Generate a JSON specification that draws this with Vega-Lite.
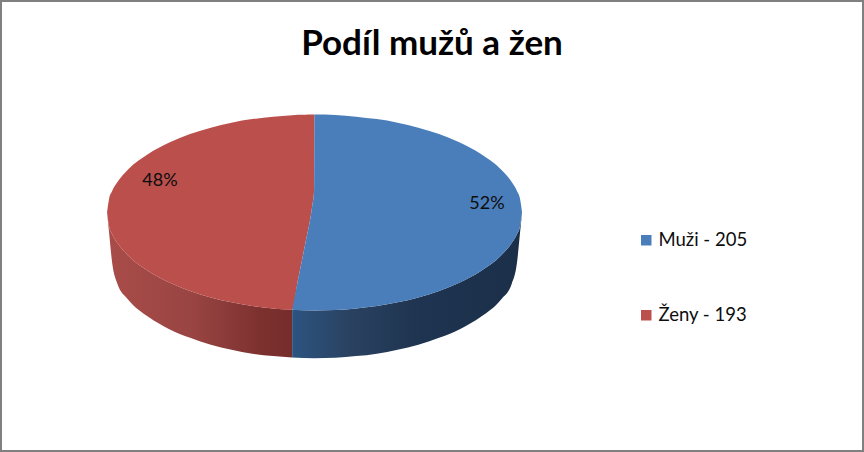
{
  "$schema": "https://vega.github.io/schema/vega-lite/v6.json",
  "width": 864,
  "height": 452,
  "autosize": {"type": "fit", "contains": "padding"},
  "padding": 0,
  "background": "white",
  "view": {"stroke": "#808080", "strokeWidth": 4, "fill": "white"},
  "title": {"text": "Podíl mužů a žen", "font": "Lato", "fontSize": 35, "fontWeight": "bold", "color": "#000000", "anchor": "middle", "frame": "group", "offset": -62},
  "datasets": {
    "podily": [
      {"kategorie": "Muži - 205", "pocet": 205, "podil": "52%", "x": 83.1, "y": 4.2},
      {"kategorie": "Ženy - 193", "pocet": 193, "podil": "48%", "x": -74.5, "y": 15.2}
    ],
    "obrys": [
      {"cast": "plast", "kategorie": "Ženy - 193", "x": -100, "y": 0, "y2": 0},
      {"cast": "plast", "kategorie": "Ženy - 193", "x": -99, "y": -6.7, "y2": -10},
      {"cast": "plast", "kategorie": "Ženy - 193", "x": -97.6, "y": -10.3, "y2": -23.9},
      {"cast": "plast", "kategorie": "Ženy - 193", "x": -95, "y": -14.7, "y2": -34.5},
      {"cast": "plast", "kategorie": "Ženy - 193", "x": -90, "y": -20.6, "y2": -41.8},
      {"cast": "plast", "kategorie": "Ženy - 193", "x": -80, "y": -28.3, "y2": -50.4},
      {"cast": "plast", "kategorie": "Ženy - 193", "x": -70, "y": -33.7, "y2": -56.2},
      {"cast": "plast", "kategorie": "Ženy - 193", "x": -60, "y": -37.8, "y2": -60.4},
      {"cast": "plast", "kategorie": "Ženy - 193", "x": -50, "y": -40.9, "y2": -63.7},
      {"cast": "plast", "kategorie": "Ženy - 193", "x": -40, "y": -43.3, "y2": -66.1},
      {"cast": "plast", "kategorie": "Ženy - 193", "x": -30, "y": -45, "y2": -68},
      {"cast": "plast", "kategorie": "Ženy - 193", "x": -20, "y": -46.2, "y2": -69.2},
      {"cast": "plast", "kategorie": "Ženy - 193", "x": -10.8, "y": -46.9, "y2": -69.9},
      {"cast": "plast", "kategorie": "Muži - 205", "x": -10.8, "y": -46.9, "y2": -69.9},
      {"cast": "plast", "kategorie": "Muži - 205", "x": 0, "y": -47.2, "y2": -70.2},
      {"cast": "plast", "kategorie": "Muži - 205", "x": 10, "y": -47, "y2": -70},
      {"cast": "plast", "kategorie": "Muži - 205", "x": 20, "y": -46.2, "y2": -69.2},
      {"cast": "plast", "kategorie": "Muži - 205", "x": 30, "y": -45, "y2": -68},
      {"cast": "plast", "kategorie": "Muži - 205", "x": 40, "y": -43.3, "y2": -66.1},
      {"cast": "plast", "kategorie": "Muži - 205", "x": 50, "y": -40.9, "y2": -63.7},
      {"cast": "plast", "kategorie": "Muži - 205", "x": 60, "y": -37.8, "y2": -60.4},
      {"cast": "plast", "kategorie": "Muži - 205", "x": 70, "y": -33.7, "y2": -56.2},
      {"cast": "plast", "kategorie": "Muži - 205", "x": 80, "y": -28.3, "y2": -50.4},
      {"cast": "plast", "kategorie": "Muži - 205", "x": 90, "y": -20.6, "y2": -41.8},
      {"cast": "plast", "kategorie": "Muži - 205", "x": 95, "y": -14.7, "y2": -34.5},
      {"cast": "plast", "kategorie": "Muži - 205", "x": 97.6, "y": -10.3, "y2": -23.9},
      {"cast": "plast", "kategorie": "Muži - 205", "x": 99, "y": -6.7, "y2": -10},
      {"cast": "plast", "kategorie": "Muži - 205", "x": 100, "y": 0, "y2": 0},
      {"cast": "vrch", "kategorie": "Ženy - 193", "x": -100, "y": 0, "y2": 0},
      {"cast": "vrch", "kategorie": "Ženy - 193", "x": -99, "y": 6.7, "y2": -6.7},
      {"cast": "vrch", "kategorie": "Ženy - 193", "x": -97.6, "y": 10.3, "y2": -10.3},
      {"cast": "vrch", "kategorie": "Ženy - 193", "x": -95, "y": 14.7, "y2": -14.7},
      {"cast": "vrch", "kategorie": "Ženy - 193", "x": -90, "y": 20.6, "y2": -20.6},
      {"cast": "vrch", "kategorie": "Ženy - 193", "x": -80, "y": 28.3, "y2": -28.3},
      {"cast": "vrch", "kategorie": "Ženy - 193", "x": -70, "y": 33.7, "y2": -33.7},
      {"cast": "vrch", "kategorie": "Ženy - 193", "x": -60, "y": 37.8, "y2": -37.8},
      {"cast": "vrch", "kategorie": "Ženy - 193", "x": -50, "y": 40.9, "y2": -40.9},
      {"cast": "vrch", "kategorie": "Ženy - 193", "x": -40, "y": 43.3, "y2": -43.3},
      {"cast": "vrch", "kategorie": "Ženy - 193", "x": -30, "y": 45, "y2": -45},
      {"cast": "vrch", "kategorie": "Ženy - 193", "x": -20, "y": 46.2, "y2": -46.2},
      {"cast": "vrch", "kategorie": "Ženy - 193", "x": -10.8, "y": 46.9, "y2": -46.9},
      {"cast": "vrch", "kategorie": "Ženy - 193", "x": -8, "y": 47.05, "y2": -32.5},
      {"cast": "vrch", "kategorie": "Ženy - 193", "x": -4.6, "y": 47.15, "y2": -15.7},
      {"cast": "vrch", "kategorie": "Ženy - 193", "x": -1.2, "y": 47.2, "y2": 2.7},
      {"cast": "vrch", "kategorie": "Ženy - 193", "x": -0.2, "y": 47.2, "y2": 10.8},
      {"cast": "vrch", "kategorie": "Ženy - 193", "x": 0, "y": 47.2, "y2": 47.2},
      {"cast": "vrch", "kategorie": "Muži - 205", "x": -10.8, "y": -46.9, "y2": -46.9},
      {"cast": "vrch", "kategorie": "Muži - 205", "x": -8, "y": -32.5, "y2": -47.05},
      {"cast": "vrch", "kategorie": "Muži - 205", "x": -4.6, "y": -15.7, "y2": -47.15},
      {"cast": "vrch", "kategorie": "Muži - 205", "x": -1.2, "y": 2.7, "y2": -47.2},
      {"cast": "vrch", "kategorie": "Muži - 205", "x": -0.2, "y": 10.8, "y2": -47.2},
      {"cast": "vrch", "kategorie": "Muži - 205", "x": 0, "y": 47.2, "y2": -47.2},
      {"cast": "vrch", "kategorie": "Muži - 205", "x": 10, "y": 47, "y2": -47},
      {"cast": "vrch", "kategorie": "Muži - 205", "x": 20, "y": 46.2, "y2": -46.2},
      {"cast": "vrch", "kategorie": "Muži - 205", "x": 30, "y": 45, "y2": -45},
      {"cast": "vrch", "kategorie": "Muži - 205", "x": 40, "y": 43.3, "y2": -43.3},
      {"cast": "vrch", "kategorie": "Muži - 205", "x": 50, "y": 40.9, "y2": -40.9},
      {"cast": "vrch", "kategorie": "Muži - 205", "x": 60, "y": 37.8, "y2": -37.8},
      {"cast": "vrch", "kategorie": "Muži - 205", "x": 70, "y": 33.7, "y2": -33.7},
      {"cast": "vrch", "kategorie": "Muži - 205", "x": 80, "y": 28.3, "y2": -28.3},
      {"cast": "vrch", "kategorie": "Muži - 205", "x": 90, "y": 20.6, "y2": -20.6},
      {"cast": "vrch", "kategorie": "Muži - 205", "x": 95, "y": 14.7, "y2": -14.7},
      {"cast": "vrch", "kategorie": "Muži - 205", "x": 97.6, "y": 10.3, "y2": -10.3},
      {"cast": "vrch", "kategorie": "Muži - 205", "x": 99, "y": 6.7, "y2": -6.7},
      {"cast": "vrch", "kategorie": "Muži - 205", "x": 100, "y": 0, "y2": 0}
    ]
  },
  "data": {"name": "obrys"},
  "encoding": {
    "x": {"field": "x", "type": "quantitative", "axis": null, "scale": {"domain": [-151.6, 264.8], "nice": false, "zero": false}},
    "y": {"field": "y", "type": "quantitative", "axis": null, "scale": {"domain": [-115.4, 102.4], "nice": false, "zero": false}}
  },
  "layer": [
    {
      "transform": [{"filter": "datum.cast == 'plast' && datum.kategorie == 'Ženy - 193'"}],
      "mark": {
        "type": "area",
        "interpolate": "monotone",
        "color": {"gradient": "linear", "x1": 0, "y1": 0, "x2": 1, "y2": 0, "stops": [
          {"offset": 0, "color": "#a94c49"},
          {"offset": 0.45, "color": "#994543"},
          {"offset": 0.85, "color": "#7b302e"},
          {"offset": 1, "color": "#752d2b"}
        ]}
      },
      "encoding": {"y2": {"field": "y2"}}
    },
    {
      "transform": [{"filter": "datum.cast == 'plast' && datum.kategorie == 'Muži - 205'"}],
      "mark": {
        "type": "area",
        "interpolate": "monotone",
        "color": {"gradient": "linear", "x1": 0, "y1": 0, "x2": 1, "y2": 0, "stops": [
          {"offset": 0, "color": "#2c5480"},
          {"offset": 0.25, "color": "#2a4261"},
          {"offset": 0.55, "color": "#1e3450"},
          {"offset": 1, "color": "#1b2f49"}
        ]}
      },
      "encoding": {"y2": {"field": "y2"}}
    },
    {
      "transform": [{"filter": "datum.cast == 'vrch'"}],
      "mark": {"type": "area", "interpolate": "monotone"},
      "encoding": {
        "y2": {"field": "y2"},
        "color": {
          "field": "kategorie",
          "type": "nominal",
          "scale": {"domain": ["Muži - 205", "Ženy - 193"], "range": ["#4a7ebb", "#bb4f4c"]},
          "legend": {
            "orient": "none",
            "legendX": 637,
            "legendY": 231,
            "title": null,
            "symbolType": "square",
            "symbolSize": 110,
            "symbolStrokeWidth": 0,
            "labelFont": "Lato",
            "labelFontSize": 18.5,
            "labelColor": "#0d0d0d",
            "labelOffset": 3,
            "rowPadding": 56
          }
        }
      }
    },
    {
      "data": {"name": "podily"},
      "mark": {"type": "text", "font": "Lato", "fontSize": 18, "color": "#0d0d0d", "align": "center", "baseline": "middle"},
      "encoding": {"text": {"field": "podil"}}
    }
  ]
}
